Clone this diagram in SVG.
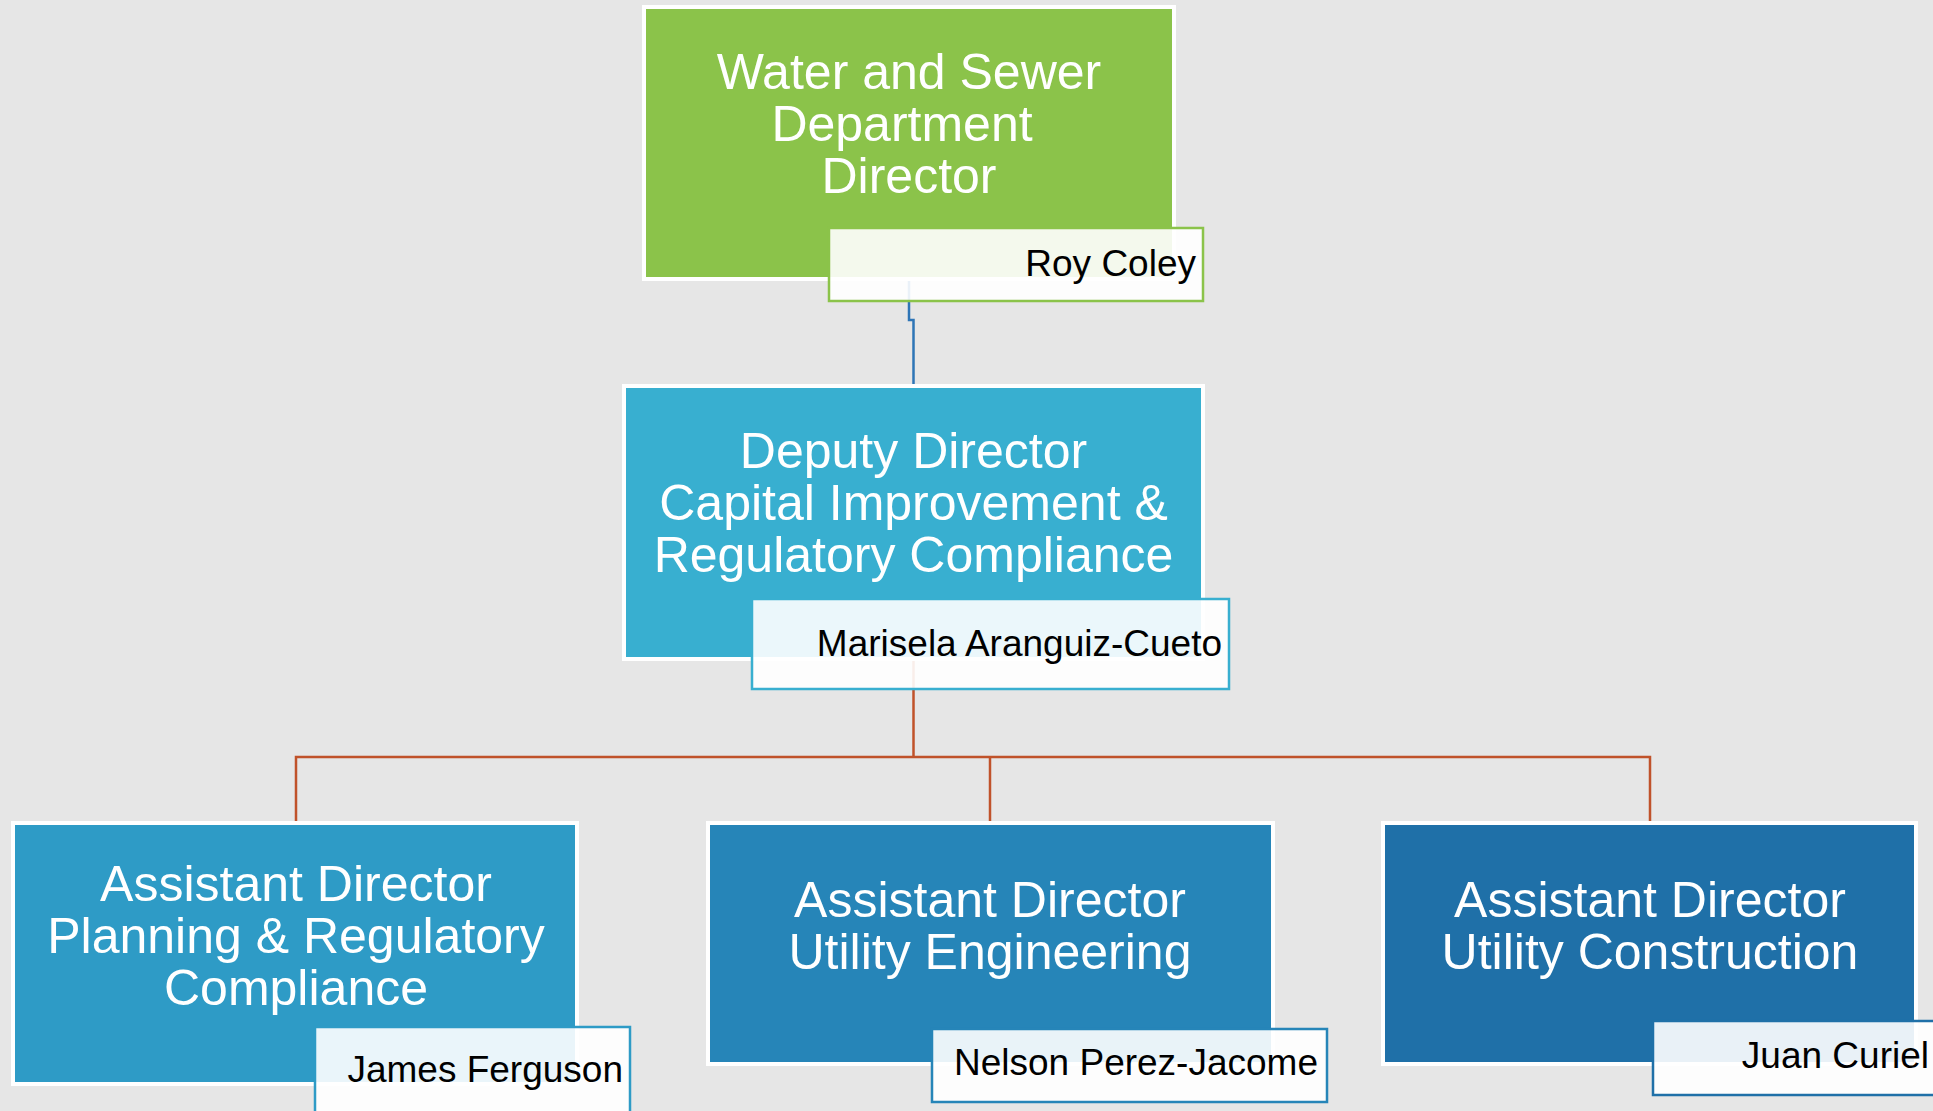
<svg xmlns="http://www.w3.org/2000/svg" width="1933" height="1111" viewBox="0 0 1933 1111">
<style>
.box{stroke:#ffffff;stroke-width:4}
.title{font-family:"Liberation Sans",Arial,sans-serif;font-size:50px;fill:#ffffff;text-anchor:middle}
.name{font-family:"Liberation Sans",Arial,sans-serif;font-size:37px;fill:#000000;text-anchor:end}
.nb{fill:#ffffff;fill-opacity:0.9;stroke-width:2.5}
.c1{fill:none;stroke:#2e75b6;stroke-width:2.5}
.c2{fill:none;stroke:#c0522a;stroke-width:2.5}
</style>
<rect width="1933" height="1111" fill="#e6e6e6"/>
<g id="connectors">
<path class="c1" d="M909 281 V320 H913.5 V385"/>
<path class="c2" d="M913.5 660 V757"/>
<path class="c2" d="M296 821 V757 H1650 V821"/>
<path class="c2" d="M990 757 V821"/>
</g>
<g id="director">
<rect class="box" x="644" y="7" width="530" height="272" fill="#8bc34a"/>
<text class="title" x="909" y="89">Water and Sewer</text>
<text class="title" x="902" y="141">Department</text>
<text class="title" x="909" y="193">Director</text>
<rect class="nb" x="829" y="228" width="374" height="73" stroke="#8bc34a"/>
<text class="name" x="1196" y="276">Roy Coley</text>
</g>
<g id="deputy">
<rect class="box" x="624" y="386" width="579" height="273" fill="#38afd0"/>
<text class="title" x="913.5" y="468">Deputy Director</text>
<text class="title" x="913.5" y="520">Capital Improvement &amp;</text>
<text class="title" x="913.5" y="572">Regulatory Compliance</text>
<rect class="nb" x="752" y="599" width="477" height="90" stroke="#38afd0"/>
<text class="name" x="1222" y="656">Marisela Aranguiz-Cueto</text>
</g>
<g id="planning">
<rect class="box" x="13" y="823" width="564" height="261" fill="#2e9bc6"/>
<text class="title" x="296" y="901">Assistant Director</text>
<text class="title" x="296" y="953">Planning &amp; Regulatory</text>
<text class="title" x="296" y="1005">Compliance</text>
<rect class="nb" x="315" y="1027" width="315" height="95" stroke="#2e9bc6"/>
<text class="name" x="623" y="1082">James Ferguson</text>
</g>
<g id="engineering">
<rect class="box" x="708" y="823" width="565" height="241" fill="#2685b8"/>
<text class="title" x="990" y="917">Assistant Director</text>
<text class="title" x="990" y="969">Utility Engineering</text>
<rect class="nb" x="932" y="1029" width="395" height="73" stroke="#2685b8"/>
<text class="name" x="1318" y="1075">Nelson Perez-Jacome</text>
</g>
<g id="construction">
<rect class="box" x="1383" y="823" width="533" height="241" fill="#1f70a8"/>
<text class="title" x="1650" y="917">Assistant Director</text>
<text class="title" x="1650" y="969">Utility Construction</text>
<rect class="nb" x="1653" y="1021" width="300" height="74" stroke="#1f70a8"/>
<text class="name" x="1929" y="1068">Juan Curiel</text>
</g>
</svg>
